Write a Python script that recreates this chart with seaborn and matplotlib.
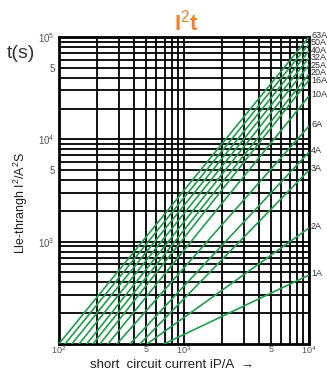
import numpy as np
import pandas as pd
import seaborn as sns
import matplotlib.pyplot as plt
from matplotlib.ticker import FixedLocator, NullFormatter
import matplotlib.transforms as mtransforms

# fuse ratings and their straight I2t lines (log-log)
ratings = ["63A", "50A", "40A", "32A", "25A", "20A", "16A", "10A", "6A", "4A", "3A", "2A", "1A"]
# current (A) where each line leaves the bottom edge (I2t = 100)
start_current = [100, 112, 127, 145, 167, 187, 213, 247, 291, 370, 445, 506, 692]
# I2t (A2s) where each line meets the right edge (I = 1e4 A)
end_i2t = [100000, 85500, 73000, 62400, 53200, 43500, 38000, 26500, 13500, 7500, 5000, 1360, 472]

x_ticks = [100, 500, 1000, 5000, 10000]
x_labels = ["$10^2$", "5", "$10^3$", "5", "$10^4$"]
y_ticks = [1000, 5000, 10000, 50000, 100000]
y_labels = ["$10^3$", "5", "$10^4$", "5", "$10^5$"]

rows = []
for r, x0, y1 in zip(ratings, start_current, end_i2t):
    rows.append({"rating": r, "current": x0, "i2t": 100})
    rows.append({"rating": r, "current": 10000, "i2t": y1})
df = pd.DataFrame(rows)

sns.set_style("white")
narrow = ["Liberation Sans Narrow", "Liberation Sans", "DejaVu Sans"]
plt.rcParams["font.family"] = narrow
plt.rcParams["mathtext.fontset"] = "custom"
plt.rcParams["mathtext.rm"] = "Liberation Sans"

green = "#1f9e4c"
fig = plt.figure(figsize=(3.27, 3.71), dpi=100)
ax = fig.add_axes([0.180, 0.0728, 0.765, 0.8275])

sns.lineplot(data=df, x="current", y="i2t", hue="rating", palette=[green] * len(ratings),
             legend=False, linewidth=1.2, ax=ax, zorder=3)
ax.set_xscale("log")
ax.set_yscale("log")
ax.set_xlim(100, 10000)
ax.set_ylim(100, 100000)

# grid on every decade subdivision
minor = [m * 10 ** d for d in range(2, 5) for m in range(2, 10)]
ax.xaxis.set_minor_locator(FixedLocator(minor))
ax.yaxis.set_minor_locator(FixedLocator(minor))
ax.xaxis.set_minor_formatter(NullFormatter())
ax.yaxis.set_minor_formatter(NullFormatter())
ax.grid(True, which="both", color="black", linewidth=1.3)
ax.set_axisbelow(True)

ax.set_xticks(x_ticks)
ax.set_xticklabels(x_labels)
ax.set_yticks(y_ticks)
ax.set_yticklabels(y_labels)
ax.tick_params(which="both", length=0, labelsize=7, labelcolor="#555555")
ax.tick_params(axis="x", pad=0.5, labelsize=6.5)
ax.tick_params(axis="y", pad=3)

for s in ax.spines.values():
    s.set_color("black")
    s.set_linewidth(2)

ax.set_xlabel("short  circuit current iP/A  \u2192", fontsize=9.5, color="#222222",
              va="baseline")
ax.xaxis.set_label_coords(0.452, -0.078)
ax.set_ylabel("Lle-thrangh I$^2$/A$^2$S", fontsize=9, color="#222222")
ax.yaxis.set_label_coords(-0.114, 0.46)

# rating labels at the right edge, nudged apart where the line ends crowd together
ends_px = [ax.transData.transform((10000, v))[1] for v in end_i2t]
label_px = []
for p in ends_px:
    p = min(p + 1.5, fig.bbox.height - 3)
    if label_px:
        p = min(p, label_px[-1] - 7.5)
    label_px.append(p)
trans = mtransforms.blended_transform_factory(ax.transAxes, fig.transFigure)
for r, p in zip(ratings, label_px):
    ax.text(1.008, p / fig.bbox.height, r, transform=trans, fontsize=6.5, color="#333333",
            ha="left", va="center", clip_on=False)

fig.text(0.569, 0.938, "I$^2$t", fontsize=16, fontweight="bold", color="#f08228",
         ha="center", va="center")
fig.text(0.064, 0.857, "t(s)", fontsize=14, color="#333333", ha="center", va="center")

fig.savefig("out.png", dpi=100)
